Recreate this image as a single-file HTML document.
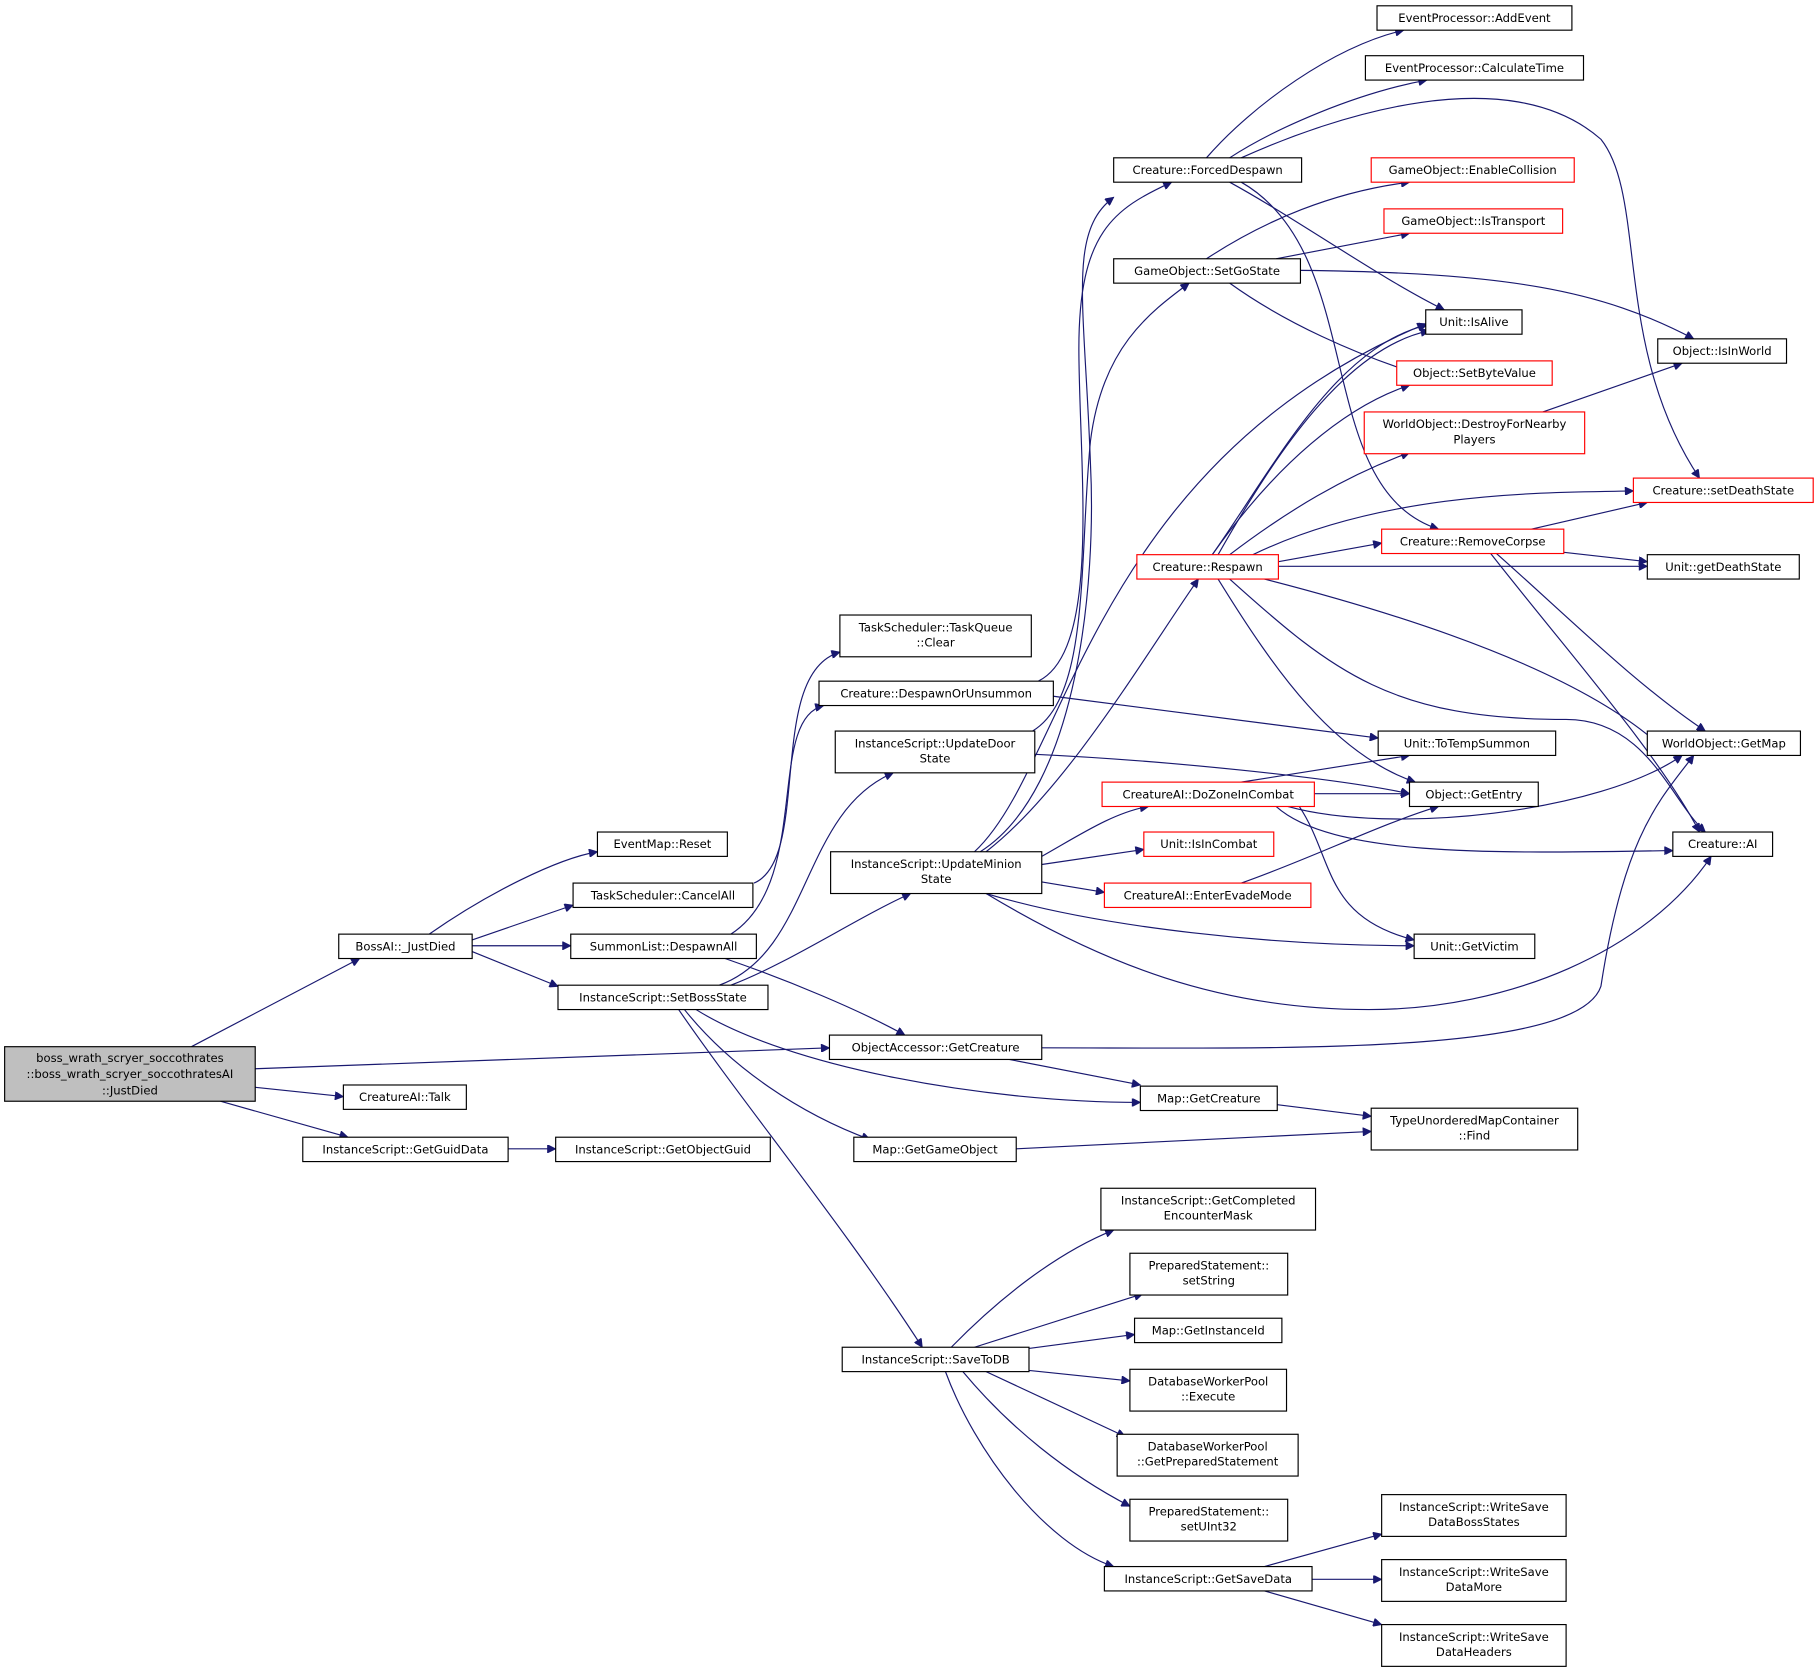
<!DOCTYPE html>
<html><head><meta charset="utf-8"><style>
html,body{margin:0;padding:0;background:#fff;}
svg{display:block;}
text{font-family:"DejaVu Sans","Liberation Sans",sans-serif;font-size:10px;fill:#000;text-anchor:middle;}
.n rect{fill:#fff;stroke:#000;stroke-width:1;}
.r rect{fill:#fff;stroke:#ff0000;stroke-width:1;}
path.e{fill:none;stroke:#191970;stroke-width:1;}
</style></head><body>
<svg width="1819" height="1671" viewBox="0 0 1568 1440" preserveAspectRatio="none" xmlns="http://www.w3.org/2000/svg">
<defs><marker id="a" viewBox="0 0 10 10" refX="10" refY="5" markerWidth="10" markerHeight="7" markerUnits="userSpaceOnUse" orient="auto"><path d="M0,0 L10,5 L0,10 z" fill="#191970" stroke="#191970"/></marker></defs>
<g marker-end="url(#a)">
<path class="e" d="M165,902 L310,826"/>
<path class="e" d="M220,921 L715,903"/>
<path class="e" d="M220,937 L296,945"/>
<path class="e" d="M190,949 L300,980"/>
<path class="e" d="M438,990 L479,990"/>
<path class="e" d="M370,805 C420,770 480,740 515,734"/>
<path class="e" d="M407,810 L494,780"/>
<path class="e" d="M407,815 L492,815"/>
<path class="e" d="M407,820 L481,850"/>
<path class="e" d="M650,761 C700,740 660,580 724,562"/>
<path class="e" d="M630,805 C700,760 660,620 710,608"/>
<path class="e" d="M625,826 C680,845 740,870 780,892"/>
<path class="e" d="M620,849 C700,820 690,700 770,666"/>
<path class="e" d="M630,849 C680,830 740,790 785,770"/>
<path class="e" d="M600,870 C680,920 850,950 983,950"/>
<path class="e" d="M590,870 C630,920 690,960 750,982"/>
<path class="e" d="M585,870 C640,950 730,1060 795,1161"/>
<path class="e" d="M895,587 C950,560 930,400 930,300 C930,200 960,180 1010,157"/>
<path class="e" d="M908,600 L1188,636"/>
<path class="e" d="M890,630 C940,600 930,480 940,380 C950,300 990,270 1025,244"/>
<path class="e" d="M892,650 C1000,655 1150,670 1215,684"/>
<path class="e" d="M850,734 C920,680 990,560 1033,499"/>
<path class="e" d="M840,734 C920,660 940,400 1229,279"/>
<path class="e" d="M845,734 C930,680 945,500 940,400 C935,260 920,200 960,170"/>
<path class="e" d="M898,738 C930,720 960,700 990,695"/>
<path class="e" d="M898,745 L986,732"/>
<path class="e" d="M898,760 L952,769"/>
<path class="e" d="M850,770 C950,800 1100,815 1219,815"/>
<path class="e" d="M850,770 C950,830 1050,870 1180,870 C1300,870 1420,820 1475,738"/>
<path class="e" d="M898,903 C1100,903 1360,910 1380,850 C1400,720 1430,690 1460,651"/>
<path class="e" d="M870,913 L983,935"/>
<path class="e" d="M1101,952 L1182,962"/>
<path class="e" d="M876,990 L1182,975"/>
<path class="e" d="M820,1161 C860,1120 910,1080 960,1060"/>
<path class="e" d="M840,1161 L985,1115"/>
<path class="e" d="M887,1162 L978,1150"/>
<path class="e" d="M887,1181 L974,1190"/>
<path class="e" d="M850,1182 L970,1238"/>
<path class="e" d="M830,1182 C870,1230 920,1270 974,1298"/>
<path class="e" d="M815,1182 C840,1250 900,1330 960,1350"/>
<path class="e" d="M1090,1350 L1191,1322"/>
<path class="e" d="M1131,1361 L1191,1361"/>
<path class="e" d="M1090,1371 L1191,1400"/>
<path class="e" d="M1040,136 C1080,90 1150,40 1210,26"/>
<path class="e" d="M1060,136 C1100,110 1170,80 1230,69"/>
<path class="e" d="M1070,136 C1150,100 1300,50 1380,120 C1420,170 1390,300 1465,412"/>
<path class="e" d="M1060,157 C1120,190 1190,240 1245,267"/>
<path class="e" d="M1070,157 C1180,220 1130,420 1240,456"/>
<path class="e" d="M1040,223 C1090,190 1150,165 1215,157"/>
<path class="e" d="M1100,223 L1215,201"/>
<path class="e" d="M1121,233 C1300,235 1380,250 1460,292"/>
<path class="e" d="M1060,244 C1110,280 1170,305 1215,320"/>
<path class="e" d="M1045,478 C1100,400 1150,300 1230,280"/>
<path class="e" d="M1050,478 C1100,390 1160,300 1232,285"/>
<path class="e" d="M1045,478 C1100,400 1160,350 1215,332"/>
<path class="e" d="M1060,478 C1110,440 1160,410 1215,390"/>
<path class="e" d="M1080,478 C1200,420 1350,425 1408,423"/>
<path class="e" d="M1102,484 L1191,468"/>
<path class="e" d="M1102,488 L1420,488"/>
<path class="e" d="M1090,499 C1250,540 1380,590 1440,651"/>
<path class="e" d="M1050,499 C1100,580 1150,650 1220,674"/>
<path class="e" d="M1060,499 C1150,580 1200,620 1350,620 C1420,620 1440,690 1470,717"/>
<path class="e" d="M1320,456 L1420,433"/>
<path class="e" d="M1348,476 L1420,484"/>
<path class="e" d="M1290,477 C1350,530 1410,590 1470,630"/>
<path class="e" d="M1285,477 C1350,560 1430,650 1465,717"/>
<path class="e" d="M1330,355 L1450,313"/>
<path class="e" d="M1070,674 L1215,651"/>
<path class="e" d="M1133,684 L1215,684"/>
<path class="e" d="M1110,695 C1200,720 1380,700 1450,651"/>
<path class="e" d="M1100,695 C1150,740 1300,735 1442,733"/>
<path class="e" d="M1120,695 C1150,740 1140,790 1219,810"/>
<path class="e" d="M1070,761 C1130,740 1190,710 1240,695"/>
</g>

<g><rect x="4" y="902" width="216" height="47" fill="#bfbfbf" stroke="#000"/>
<text x="112" y="915">boss_wrath_scryer_soccothrates</text><text x="112" y="929">::boss_wrath_scryer_soccothratesAI</text><text x="112" y="943">::JustDied</text></g>

<g class="n"><rect x="292" y="805" width="115" height="21"/><text x="349.5" y="819">BossAI::_JustDied</text></g>
<g class="n"><rect x="296" y="935" width="106" height="21"/><text x="349" y="949">CreatureAI::Talk</text></g>
<g class="n"><rect x="261" y="980" width="177" height="21"/><text x="349.5" y="994">InstanceScript::GetGuidData</text></g>
<g class="n"><rect x="479" y="980" width="185" height="21"/><text x="571.5" y="994">InstanceScript::GetObjectGuid</text></g>
<g class="n"><rect x="515" y="717" width="112" height="21"/><text x="571" y="731">EventMap::Reset</text></g>
<g class="n"><rect x="494" y="761" width="155" height="21"/><text x="571.5" y="775">TaskScheduler::CancelAll</text></g>
<g class="n"><rect x="492" y="805" width="160" height="21"/><text x="572" y="819">SummonList::DespawnAll</text></g>
<g class="n"><rect x="481" y="849" width="181" height="21"/><text x="571.5" y="863">InstanceScript::SetBossState</text></g>
<g class="n"><rect x="724" y="530" width="165" height="36"/><text x="806.5" y="544">TaskScheduler::TaskQueue</text><text x="806.5" y="557">::Clear</text></g>
<g class="n"><rect x="706" y="587" width="202" height="21"/><text x="807" y="601">Creature::DespawnOrUnsummon</text></g>
<g class="n"><rect x="720" y="630" width="172" height="36"/><text x="806" y="644">InstanceScript::UpdateDoor</text><text x="806" y="657">State</text></g>
<g class="n"><rect x="716" y="734" width="182" height="36"/><text x="807" y="748">InstanceScript::UpdateMinion</text><text x="807" y="761">State</text></g>
<g class="n"><rect x="715" y="892" width="183" height="21"/><text x="806.5" y="906">ObjectAccessor::GetCreature</text></g>
<g class="n"><rect x="983" y="936" width="118" height="21"/><text x="1042" y="950">Map::GetCreature</text></g>
<g class="n"><rect x="736" y="980" width="140" height="21"/><text x="806" y="994">Map::GetGameObject</text></g>
<g class="n"><rect x="1182" y="955" width="178" height="36"/><text x="1271" y="969">TypeUnorderedMapContainer</text><text x="1271" y="982">::Find</text></g>
<g class="n"><rect x="726" y="1161" width="161" height="21"/><text x="806.5" y="1175">InstanceScript::SaveToDB</text></g>
<g class="n"><rect x="949" y="1024" width="185" height="36"/><text x="1041.5" y="1038">InstanceScript::GetCompleted</text><text x="1041.5" y="1051">EncounterMask</text></g>
<g class="n"><rect x="974" y="1080" width="136" height="36"/><text x="1042" y="1094">PreparedStatement::</text><text x="1042" y="1107">setString</text></g>
<g class="n"><rect x="978" y="1136" width="127" height="21"/><text x="1041.5" y="1150">Map::GetInstanceId</text></g>
<g class="n"><rect x="974" y="1180" width="135" height="36"/><text x="1041.5" y="1194">DatabaseWorkerPool</text><text x="1041.5" y="1207">::Execute</text></g>
<g class="n"><rect x="963" y="1236" width="156" height="36"/><text x="1041" y="1250">DatabaseWorkerPool</text><text x="1041" y="1263">::GetPreparedStatement</text></g>
<g class="n"><rect x="974" y="1292" width="136" height="36"/><text x="1042" y="1306">PreparedStatement::</text><text x="1042" y="1319">setUInt32</text></g>
<g class="n"><rect x="952" y="1350" width="179" height="21"/><text x="1041.5" y="1364">InstanceScript::GetSaveData</text></g>
<g class="n"><rect x="1191" y="1288" width="159" height="36"/><text x="1270.5" y="1302">InstanceScript::WriteSave</text><text x="1270.5" y="1315">DataBossStates</text></g>
<g class="n"><rect x="1191" y="1344" width="159" height="36"/><text x="1270.5" y="1358">InstanceScript::WriteSave</text><text x="1270.5" y="1371">DataMore</text></g>
<g class="n"><rect x="1191" y="1400" width="159" height="36"/><text x="1270.5" y="1414">InstanceScript::WriteSave</text><text x="1270.5" y="1427">DataHeaders</text></g>
<g class="n"><rect x="960" y="136" width="162" height="21"/><text x="1041" y="150">Creature::ForcedDespawn</text></g>
<g class="n"><rect x="960" y="223" width="161" height="21"/><text x="1040.5" y="237">GameObject::SetGoState</text></g>
<g class="r"><rect x="980" y="478" width="122" height="21"/><text x="1041" y="492">Creature::Respawn</text></g>
<g class="r"><rect x="950" y="674" width="183" height="21"/><text x="1041.5" y="688">CreatureAI::DoZoneInCombat</text></g>
<g class="r"><rect x="986" y="717" width="112" height="21"/><text x="1042" y="731">Unit::IsInCombat</text></g>
<g class="r"><rect x="952" y="761" width="178" height="21"/><text x="1041" y="775">CreatureAI::EnterEvadeMode</text></g>
<g class="n"><rect x="1187" y="5" width="168" height="21"/><text x="1271" y="19">EventProcessor::AddEvent</text></g>
<g class="n"><rect x="1177" y="48" width="188" height="21"/><text x="1271" y="62">EventProcessor::CalculateTime</text></g>
<g class="r"><rect x="1182" y="136" width="175" height="21"/><text x="1269.5" y="150">GameObject::EnableCollision</text></g>
<g class="r"><rect x="1193" y="180" width="154" height="21"/><text x="1270" y="194">GameObject::IsTransport</text></g>
<g class="n"><rect x="1229" y="267" width="83" height="21"/><text x="1270.5" y="281">Unit::IsAlive</text></g>
<g class="r"><rect x="1204" y="311" width="134" height="21"/><text x="1271" y="325">Object::SetByteValue</text></g>
<g class="r"><rect x="1176" y="355" width="190" height="36"/><text x="1271" y="369">WorldObject::DestroyForNearby</text><text x="1271" y="382">Players</text></g>
<g class="r"><rect x="1191" y="456" width="157" height="21"/><text x="1269.5" y="470">Creature::RemoveCorpse</text></g>
<g class="n"><rect x="1188" y="630" width="153" height="21"/><text x="1264.5" y="644">Unit::ToTempSummon</text></g>
<g class="n"><rect x="1215" y="674" width="111" height="21"/><text x="1270.5" y="688">Object::GetEntry</text></g>
<g class="n"><rect x="1219" y="805" width="104" height="21"/><text x="1271" y="819">Unit::GetVictim</text></g>
<g class="n"><rect x="1429" y="292" width="111" height="21"/><text x="1484.5" y="306">Object::IsInWorld</text></g>
<g class="r"><rect x="1408" y="412" width="155" height="21"/><text x="1485.5" y="426">Creature::setDeathState</text></g>
<g class="n"><rect x="1420" y="478" width="131" height="21"/><text x="1485.5" y="492">Unit::getDeathState</text></g>
<g class="n"><rect x="1420" y="630" width="132" height="21"/><text x="1486" y="644">WorldObject::GetMap</text></g>
<g class="n"><rect x="1442" y="717" width="86" height="21"/><text x="1485" y="731">Creature::AI</text></g>
</svg>
</body></html>
